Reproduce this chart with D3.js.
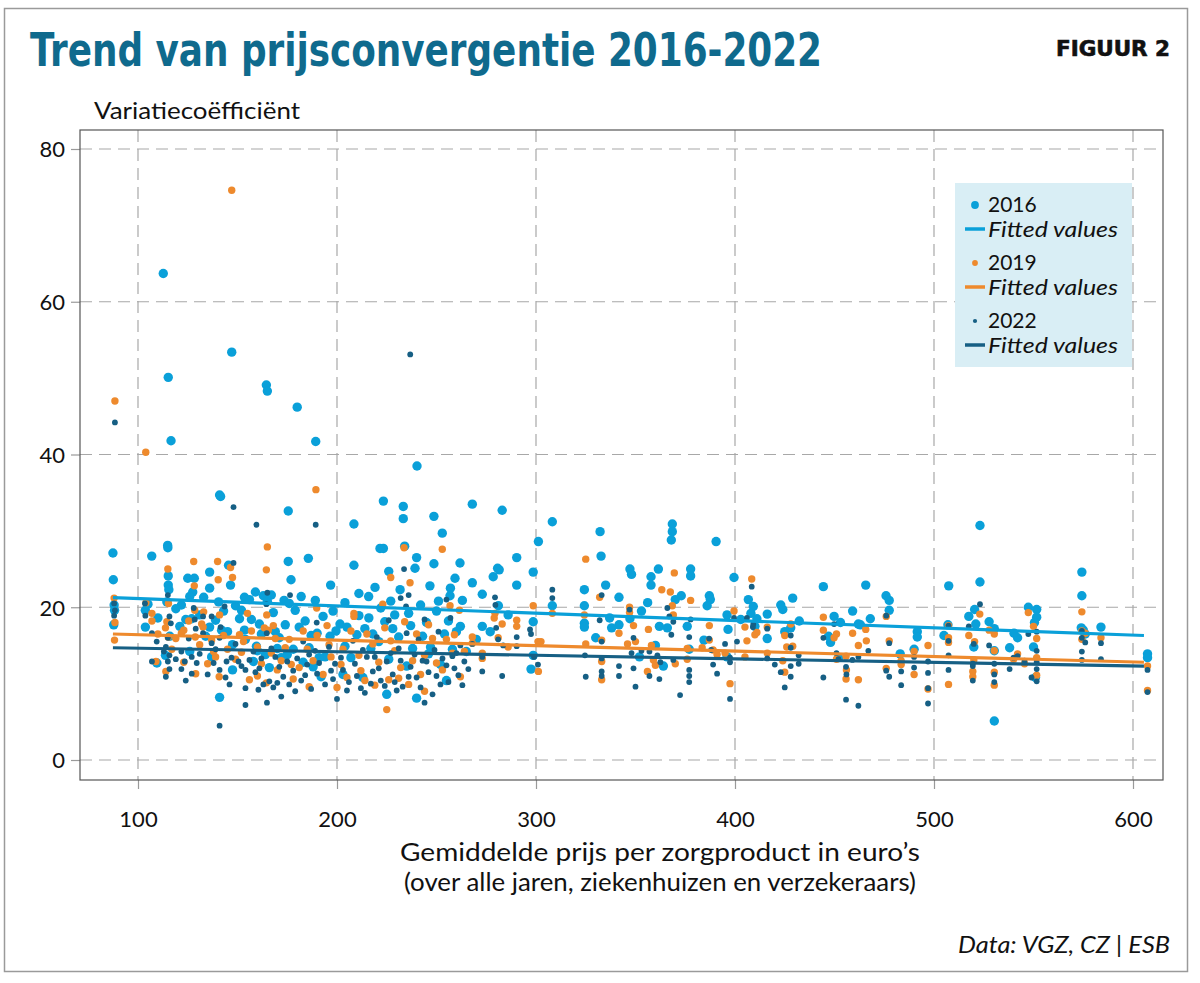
<!DOCTYPE html>
<html><head><meta charset="utf-8">
<script src="https://cdnjs.cloudflare.com/ajax/libs/d3/7.8.5/d3.min.js"></script>
<style>
html,body{margin:0;padding:0;background:#fff;}
svg{display:block;}
</style></head>
<body><svg id="chart" width="1200" height="983"></svg>
<script>
// ---------- data ----------
const seriesNames = ["2016", "2019", "2022"];
const xTicks = [100, 200, 300, 400, 500, 600];
const yTicks = [0, 20, 40, 60, 80];
const titleText = "Trend van prijsconvergentie 2016-2022";
const yTitle = "Variatiecoëfficiënt";
const xTitle = ["Gemiddelde prijs per zorgproduct in euro’s", "(over alle jaren, ziekenhuizen en verzekeraars)"];
const sourceText = "Data: VGZ, CZ | ESB";

const points2016 = [
[87.4,27.1],[87.6,23.6],[88,20.3],[87.8,17.7],[88.2,19.6],
[106.9,26.7],[103.7,19.6],[103.7,17.4],[105,20.4],[109.5,12.7],[110,18.6],
[112.7,63.7],[115.2,50.1],[116.6,41.8],[114.9,28.1],[115,27.8],[115.2,24.1],[115.2,22.9],[115.5,22.3],[114.5,20.7],[113.8,13.7],[116,16.2],
[121.8,20.3],[125,23.8],[128.3,23.8],[127.5,22.0],[126,21.4],[124,18.4],[127,18.5],[126,14.2],
[136,24.6],[136,22.5],[133,21.3],[136,17.4],[134,16.2],[137,13.5],
[141,34.7],[141.5,34.5],[147.1,53.4],[145.5,25.5],[146.5,22.9],[140.5,20.7],[147.5,15.1],[147.5,11.8],[141,8.2],[143,19.5],[145,16.8],
[153.5,21.3],[156,21],[159,22],[151,18.5],[153.5,17.0],[159.5,14.9],[160,14.3],[164.5,49.1],[165,48.3],[163,21.5],[165,20.8],[162,16.5],[158,12.9],[164,13.8],
[168,19.3],[170,14.6],[172,13.4],[175.5,32.6],[175.5,26.0],[176.9,23.6],[173.4,20.9],[176,20.5],[174,17.7],[171,16.0],[178,14.5],
[180,46.2],[189.3,41.7],[185.6,26.4],[189.1,20.9],[190,16.6],[182,21.4],[184,18.2],[186,14.7],[188,12.2],
[196.8,22.9],[196.5,16.2],[201.5,17.8],[199.5,16.9],[194,13.5],
[208.5,30.9],[208.5,25.5],[205,17.4],[210,16.4],[207,13.4],
[215.9,21.4],[219.1,22.6],[221.6,27.7],[223.3,33.9],[223.3,27.7],[218,16.5],[221,15.5],[225,8.6],[216,18.6],[222,19.9],
[231.7,22.3],[233.3,33.2],[233.3,31.6],[234,28.0],[240,26.5],[239.2,25.1],[240.2,38.5],[240,8.1],[228,17.2],[231,16.1],[236,19.2],[238,14.6],[235,12.3],
[248.7,31.9],[252.9,29.7],[248.7,25.7],[246.7,22.8],[261.8,25.8],[259.3,23.8],[257,22.5],[256.8,21.5],[250,19.5],[254,16.5],[258,14.5],[245,18.0],[252,12.5],[262,17.5],
[175,13.8],[183,12.8],[192,10.9],[203,11.2],[213,10.8],[226,13.2],[246,13.9],[255,10.4],
[119,19.8],[121,17.5],[131,19.0],[139,18.3],[142,17.0],[149,20.2],[152,19.6],[157,18.4],[161,17.8],[167,21.6],[169,16.8],[179,19.6],[181,17.4],[187,16.3],[193,18.8],[198,19.5],[204,20.6],[211,18.9],[214,17.2],[217,14.6],[224,18.1],[227,20.8],[229,19.0],[237,17.6],[242,20.3],[243,16.2],[247,14.8],[251,20.8],[256,18.2],[260,16.8],[263,20.9],[265,14.2],[211,21.8],[226,24.7],[204,14.9],[191,13.4],[166,12.1],[154,15.8],
[268,33.5],[283,32.7],[268,23.2],[273,21.7],[273,17.5],[280.7,25.1],[281.5,24.9],[278.5,24.0],[281.1,20.2],[290.3,26.5],[290.3,22.9],[298.6,24.6],[298.6,18.1],[298.6,13.7],[297.5,11.9],[301.2,28.6],[277,16.8],[286,19],[270,15.8],
[308.2,31.2],[308.2,20.2],[324.3,22.3],[324.3,20.2],[324.3,17.9],[324.3,17.4],[332.2,29.9],[332.7,26.7],[335,22.9],[341.7,21.3],[341.7,17.7],[337,18.6],[338,17.3],[330,16.0],
[347.2,25.0],[348,24.3],[347.2,18.5],[357.8,24.0],[357.8,22.9],[361.5,25.0],[356.1,20.6],[368.5,30.9],[368.5,29.9],[368,28.8],[353,19.5],[362,17.5],[366,17.3],[364,12.3],[370,21],[360,15.0],[352,13.5],
[373,21.5],[377.7,25.0],[377.7,24.1],[376,17.5],[377,14.5],[384.4,15.7],[387.1,21.5],[387.6,21.0],[390.5,28.6],[386,20.2],[396,19],[396.5,17.1],[399.5,23.9],[396,13.5],
[402.9,18.4],[406.7,21.0],[409.2,20.1],[408,19.2],[411,18.5],[416.2,19.1],[416.2,15.9],[423,20.3],[424,19.7],[425,16.8],[428,17.3],[429,21.2],[432.3,18.2],[410,17.5],
[444.4,22.7],[449.8,18.8],[447,16.2],[448,15.4],[453,18],[459.1,19.5],[462,17.8],[465.7,22.9],[463,17.7],[452,13.4],[468,18.5],
[475.9,21.5],[477.5,20.9],[477.5,19.6],[483,13.9],[490,14.5],[491.6,16.8],[491.6,16.1],
[507.4,22.8],[505,16.3],[507,17.7],[517.5,18.8],[520.4,19.7],[521,17.8],[523.1,30.7],[523.1,23.3],[520,14.8],[527.7,18.1],[530.3,17.2],[530.3,14.3],[530.3,5.1],
[538,14.7],[540.2,16.6],[542,16.0],[547.4,20.0],[551.6,19.7],[551.6,18.7],[550.5,18.0],[550,14.8],[551,10.8],
[574.3,24.6],[574.3,21.5],[574,17.3],[575,17.0],[576,16.5],[583.9,17.4],[607.3,13.9],[607.3,13.4]
];

const points2019 = [
[88.4,47.0],[88,21.2],[88.4,18.0],[88.2,15.7],
[103.9,40.3],[104,20.6],[107,19.2],[107,18.2],[109,12.9],[110,16.5],
[115,25.0],[115.3,20.5],[114.5,18.1],[113.8,17.3],[115.2,16.1],[114,11.6],[117,14.5],
[128,26.0],[128.3,22.8],[128.5,19.6],[125.5,18.2],[121.8,16.6],[128.8,16.1],[123,12.8],[129,11.3],[132,17.8],
[140,26.0],[140.3,23.6],[133,19.4],[132.7,17.4],[137,15.7],[138,14.2],[139,13.5],[146.5,25.2],[147.5,23.9],[147.1,74.6],[141,19.0],[140.8,10.9],[145,14.5],
[155,19.2],[165,27.9],[164.5,24.9],[164.7,19.0],[151,16.4],[163.5,17.3],[165.5,17.0],[153,15.5],[156,10.5],[160,11.0],[164.5,10.1],[160,14.8],
[189.4,35.4],[189.8,19.9],[176,15.8],[172,13],[181,12.1],[185,14.5],[170,11.8],[178,10.6],[186,9.6],[190,16.3],[168,17.6],
[208.5,19.2],[208.5,18.8],[223,20.4],[227,23.9],[233.7,27.8],[236.7,23.2],[252.9,27.6],[256.8,20.2],[261.5,19.6],[225,6.6],[197,13.5],[202,12.5],[205,10.8],[212,11.7],[218,15.2],[229,14.3],[232,12.1],[240,16.5],[244,13.7],[248,15.9],[253,11.8],[258,14.0],[262,10.9],[215,16.5],[200,9.5],[195,17.6],[219,9.8],[236,9.9],
[119,15.9],[123,17.0],[131,15.1],[135,12.6],[143,16.3],[149,13.2],[152,14.1],[157,16.9],[162,12.6],[167,14.0],[169,15.9],[174,14.7],[177,12.5],[183,16.9],[188,13.0],[193,11.2],[196,15.1],[203,14.5],[207,16.9],[211,13.7],[214,10.4],[221,12.8],[224,17.3],[227,15.6],[231,10.7],[234,18.1],[238,13.0],[242,11.2],[246,17.7],[250,12.7],[255,15.8],[259,16.4],[264,14.2],[226,10.5],[244,9.0],
[268,16.1],[268,15.3],[273,14.0],[273,13.3],[279.4,19.2],[279,18.6],[283,17.8],[281,16.0],[290.3,18.3],[290.3,17.5],[298.6,20.2],[301,15.5],[302.5,15.5],[301.2,11.6],[286,14.8],
[308.2,19.2],[325,26.3],[324.3,19.0],[325,15.2],[332,21.3],[333,15.7],[333,12.9],[333,10.5],[341.7,16.6],[347,20],[347,19.3],[349,17.6],[350,15.5],[346,15.2],
[356.5,17.1],[358,15.0],[359,13.1],[360,12.4],[356,11.6],[363.2,22.3],[369.5,24.5],[367.5,22.0],[368.5,20.2],[369,19.0],[370,12.6],
[377.7,20.9],[376,14.6],[376,13.2],[383.5,14.7],[387.1,17.6],[387.1,15.7],[389,14.4],[391,13.8],[397.5,10.0],[395,14.0],[399.5,19.5],
[408.4,23.7],[406,15.6],[405,13.5],[410,16.4],[411,16.7],[405,17.4],[416.2,17.4],[416.2,14.0],[425,16.3],[426,14.8],[424,13.0],[425,11.5],[428,17.8],[429,14.9],
[444.4,18.7],[444.4,17.0],[449.8,16.0],[451,16.5],[451,13.2],[455.8,13.6],[456,11.8],[455.8,10.6],[459.1,16.6],[462,15.0],[462,10.5],[465.7,17.1],[466,15.6],
[476,18.8],[477.5,15.6],[476,12.0],[483.5,12.5],[483.5,13.0],[490,14.2],[490,11.2],[497,15.0],[497,9.3],
[507.3,17.6],[507.3,16.0],[507.3,15.4],[507.3,9.9],[517.5,16.3],[520.4,15.5],[523,19.1],[520,13.1],[519.5,11.6],[519.5,10.9],[530.3,16.5],[530.3,14.3],[530.3,11.5],[527.7,17.0],[530.3,9.8],
[540,13.2],[542,13.9],[545.5,12.6],[547.4,19.3],[551.6,15.9],[551.6,13.4],[551.6,11.1],[550,17.5],
[574.3,19.4],[574.3,16.9],[576,16.6],[574.3,15.8],[583.9,16.0],[607.3,12.3],[607.3,9.1]
];

const points2022 = [
[88.4,44.2],[88,20.5],[88.4,19.6],[88,18.9],
[103.7,18.9],[107,16.6],[109.4,15.5],[107,12.9],[103.5,20.5],
[115,21.6],[115.8,18.8],[116.5,17.9],[115,16.0],[114,14.8],[115.8,13.7],[115,12.9],[115.8,11.9],[114,10.9],[113,14.2],
[128,19.9],[128.5,18.4],[129,17.2],[125.5,15.9],[121.8,14.2],[127,13.5],[123.5,12.9],[129.5,12.7],[121.8,11.9],[127,11.3],
[132.7,18.8],[137,18.8],[132.7,16.6],[137,15.3],[138,12.7],[148,33.1],[148,25.8],[143.5,20.1],[141.5,17.4],[141,16.0],[144.5,12.9],[141,11.8],[141,4.5],[147,13.4],[146,9.9],
[159.5,30.8],[165,21.9],[164.5,20.4],[164.7,16.6],[150.5,12.9],[154,11.8],[154,9.4],[154,7.2],[159,11.5],[160.5,9.2],[164.8,7.5],[158,14.2],[162,13.3],[166,10.3],
[176.4,21.6],[189.8,18.0],[189.3,30.8],[169,13.5],[171,12.2],[173,10.9],[176,9.9],[178,11.7],[180,13.3],[182,10.4],[185,12.5],[187,9.3],[189,14.3],[183,15.5],[168,9.5],[172,8.3],[190,11.3],
[236.8,53.1],[233.7,25.0],[234.7,20.1],[232,21.2],[236,21.6],[226,18.3],[244,18.4],[257,18.6],[255,21.0],[196,14.8],[199,12.6],[203,11.8],[206,10.2],[209,12.6],[212,9.4],[215,13.5],[218,11.6],[222,10.4],[225,12.9],[228,11.2],[231,14.6],[233,9.6],[237,12.2],[240,10.8],[243,13.0],[246,11.5],[249,14.4],[252,9.9],[255,12.4],[258,13.6],[261,11.1],[264,12.9],[200,8.0],[214,8.8],[230,9.1],[248,8.6],[208,15.6],[220,16.1],[235,16.6],[251,16.8],[198,10.6],[244,7.5],[262,15.0],
[119,13.2],[124,10.4],[131,13.9],[135,11.2],[139,14.5],[144,10.8],[149,15.2],[152,12.3],[156,13.1],[161,12.0],[163,9.9],[167,14.6],[170,10.1],[175,12.9],[179,9.0],[184,11.1],[186,13.8],[191,12.7],[194,9.9],[197,11.7],[202,13.4],[205,9.1],[210,11.0],[213,14.4],[217,10.0],[221,12.0],[224,9.7],[227,14.0],[229,10.2],[232,13.0],[236,10.9],[239,13.8],[242,9.5],[245,12.9],[250,11.0],[253,13.3],[256,10.2],[259,12.0],[263,9.8],[266,11.9],[219,13.5],[241,15.8],[260,14.0],
[268,15.2],[273,13.5],[273,11.6],[279.4,21.3],[279.6,20.3],[280,17.3],[281,15.8],[283.5,15.0],[283,11.0],[290.3,16.1],[290.3,14.9],[297,17.1],[297.5,16.5],[299,13.5],[301,12.5],
[308.2,22.3],[308.2,21.2],[324.6,13.7],[325,10.9],[333,21.6],[332,18.3],[333,15.5],[333,13.3],[333,11.6],[333,11.0],[341.7,12.3],[341.7,11.0],[347,19.7],[349,16.0],[348,14.0],[349,12.0],[350,9.6],
[353,14.3],[357,14.2],[361,13.7],[362.5,12.8],[357,11.0],[362,10.6],[366,19.9],[367,18.8],[369,18.1],[368,16.4],[372.4,8.5],[369,13.1],
[377.7,18.4],[377,16.1],[377,11.8],[377,11.0],[377,10.2],[387,15.9],[388,14.4],[389,12.5],[391,11.3],[397.5,13.4],[397.5,12.8],[397.5,8.0],[395,15.2],[399.5,18.6],[401,15.5],
[408.4,22.7],[406,18.6],[409,17.4],[409.2,17.8],[416.2,17.2],[416.2,13.3],[420,12.5],[423,11.5],[425,9.5],[428,16.3],[428,14.7],[428,12.3],[428,10.9],[432,13.7],[432,12.6],
[444.4,16.0],[444.4,10.8],[449.8,17.8],[451,14.0],[452,13.2],[455.8,12.2],[456,11.2],[455.8,7.9],[459,13.1],[462,13.5],[462,7.1],[467,14.3],
[476,18.9],[477.5,15.3],[476,11.7],[477.5,10.9],[483.5,9.8],[483.5,11.6],[490,13.5],[490,12.1],[497,12.9],[497,11.4],[497,9.4],[497,7.4],
[507.3,17.6],[507.3,15.6],[507.3,13.7],[507.3,11.8],[517.5,17.5],[520,15.2],[523.1,20.4],[519.5,12.6],[519.5,12.3],[519.5,10.4],[527.7,15.0],[530.3,12.6],[530.3,11.2],[530.3,10.2],
[540,13.4],[542,13.6],[545.5,13.0],[538,11.9],[547.4,16.5],[551.6,16.8],[551.6,14.3],[551.6,12.8],[551.6,11.9],[551.6,10.3],[549,10.8],
[574.3,16.9],[574.3,16.0],[576,15.4],[574.3,14.2],[574.3,13.1],[583.9,15.3],[583.9,13.2],[607.3,11.8],[607.3,8.9]
];

// fitted values (end points of the regression lines)
const fit2016 = [[87.4, 21.25], [605.5, 16.3]];
const fit2019 = [[87.4, 16.5], [605.5, 12.8]];
const fit2022 = [[87.4, 14.7], [605.5, 12.3]];

// ---------- styling ----------
const colors = {"2016": "#0aa0d9", "2019": "#ee8a2d", "2022": "#165f84"};
const radius = {"2016": 4.7, "2019": 3.7, "2022": 2.9};
const bodyFont = "Lato, 'Open Sans', sans-serif";

const svg = d3.select("#chart");

// outer frame
svg.append("rect").attr("x", 4.5).attr("y", 8.5).attr("width", 1183).attr("height", 963)
  .attr("fill", "#fff").attr("stroke", "#9a9a9a").attr("stroke-width", 1.5);

// title
svg.append("text").attr("x", 30).attr("y", 66)
  .attr("font-family", "'Liberation Sans Narrow','DejaVu Sans Condensed','Roboto',sans-serif")
  .attr("font-weight", 700).attr("font-size", 47).attr("fill", "#0f6a8d")
  .attr("textLength", 792).attr("lengthAdjust", "spacingAndGlyphs")
  .text(titleText);

svg.append("text").attr("x", 1170).attr("y", 56).attr("text-anchor", "end")
  .attr("font-family", "'DejaVu Sans Condensed','Liberation Sans',sans-serif")
  .attr("font-weight", 900).attr("font-size", 21).attr("fill", "#111")
  .attr("stroke", "#111").attr("stroke-width", 0.6)
  .attr("textLength", 114).attr("lengthAdjust", "spacingAndGlyphs")
  .text("FIGUUR 2");

svg.append("text").attr("x", 94).attr("y", 119)
  .attr("font-family", bodyFont).attr("font-size", 24).attr("fill", "#111")
  .attr("textLength", 206).attr("lengthAdjust", "spacingAndGlyphs")
  .text(yTitle);

// plot geometry
const box = {left: 80, right: 1163, top: 130, bottom: 780};
const x = d3.scaleLinear().domain([100, 600]).range([138, 1133]);
const y = d3.scaleLinear().domain([0, 80]).range([760, 149]);

// gridlines
const grid = svg.append("g").attr("stroke", "#a8a8a8").attr("stroke-width", 1.2).attr("stroke-dasharray", "12,7");
grid.selectAll("line.gx").data(xTicks).join("line")
  .attr("x1", d => x(d)).attr("x2", d => x(d)).attr("y1", box.top).attr("y2", box.bottom);
grid.selectAll("line.gy").data(yTicks).join("line")
  .attr("y1", d => y(d)).attr("y2", d => y(d)).attr("x1", box.left).attr("x2", box.right);

// axes
const xAxis = d3.axisBottom(x).tickValues(xTicks).tickSize(9).tickPadding(22).tickFormat(d3.format("d"));
const yAxis = d3.axisLeft(y).tickValues(yTicks).tickSize(9).tickPadding(6).tickFormat(d3.format("d"));
const gx = svg.append("g").attr("transform", `translate(0,${box.bottom})`).call(xAxis);
const gy = svg.append("g").attr("transform", `translate(${box.left},0)`).call(yAxis);
[gx, gy].forEach(g => {
  g.select(".domain").remove();
  g.selectAll(".tick line").attr("stroke", "#9a9a9a").attr("stroke-width", 1.2);
  g.selectAll(".tick text").attr("font-family", bodyFont).attr("font-size", 22).attr("fill", "#111");
});
gy.selectAll(".tick text").attr("dy", "0.36em");

// plot box
svg.append("rect").attr("x", box.left).attr("y", box.top)
  .attr("width", box.right - box.left).attr("height", box.bottom - box.top)
  .attr("fill", "none").attr("stroke", "#555").attr("stroke-width", 1.2);

// points
const seriesData = {"2016": points2016, "2019": points2019, "2022": points2022};
const fits = {"2016": fit2016, "2019": fit2019, "2022": fit2022};
seriesNames.forEach(s => {
  svg.append("g").selectAll("circle").data(seriesData[s]).join("circle")
    .attr("cx", d => x(d[0])).attr("cy", d => y(d[1])).attr("r", radius[s])
    .attr("fill", colors[s]);
});
const line = d3.line().x(d => x(d[0])).y(d => y(d[1]));
seriesNames.forEach(s => {
  svg.append("path").datum(fits[s]).attr("d", line)
    .attr("fill", "none").attr("stroke", colors[s]).attr("stroke-width", 3.2);
});

// legend
const lg = svg.append("g");
lg.append("rect").attr("x", 955).attr("y", 183).attr("width", 177).attr("height", 184).attr("fill", "#d9eef5");
seriesNames.forEach((s, i) => {
  const y0 = 205 + i * 58;
  lg.append("circle").attr("cx", 975).attr("cy", y0).attr("r", radius[s] - 0.8).attr("fill", colors[s]);
  lg.append("text").attr("x", 988).attr("y", y0 + 7).attr("font-family", bodyFont).attr("font-size", 21).attr("fill", "#111").text(s);
  lg.append("line").attr("x1", 965).attr("x2", 985).attr("y1", y0 + 24).attr("y2", y0 + 24)
    .attr("stroke", colors[s]).attr("stroke-width", 3.5);
  lg.append("text").attr("x", 988).attr("y", y0 + 32).attr("font-family", bodyFont).attr("font-style", "italic")
    .attr("font-size", 22).attr("fill", "#111")
    .attr("textLength", 130).attr("lengthAdjust", "spacingAndGlyphs").text("Fitted values");
});

// x title
xTitle.forEach((t, i) => {
  svg.append("text").attr("x", 660).attr("y", 861 + i * 30).attr("text-anchor", "middle")
    .attr("font-family", bodyFont).attr("font-size", 25).attr("fill", "#111")
    .attr("textLength", i === 0 ? 520 : 512).attr("lengthAdjust", "spacingAndGlyphs").text(t);
});

// source
svg.append("text").attr("x", 1170).attr("y", 953).attr("text-anchor", "end")
  .attr("font-family", bodyFont).attr("font-style", "italic").attr("font-size", 24).attr("fill", "#111")
  .attr("textLength", 212).attr("lengthAdjust", "spacingAndGlyphs")
  .text(sourceText);
</script></body></html>
